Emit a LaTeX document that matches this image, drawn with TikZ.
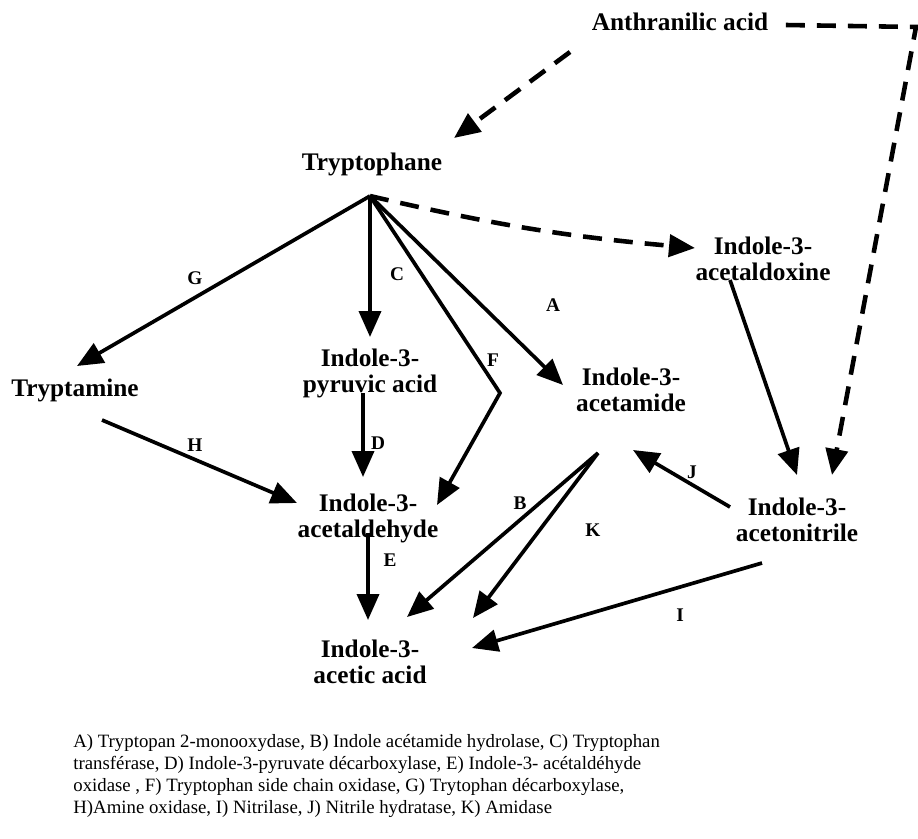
\documentclass[tikz,border=0pt]{standalone}
\usepackage{fontspec}
\setmainfont{Liberation Serif}
\usepackage{tikz}
\usetikzlibrary{arrows.meta,calc}

\begin{document}
\begin{tikzpicture}[
    x=0.02cm, y=-0.02cm,
    % --- STYLES ---
    compound/.style={
        font=\fontsize{14.4}{14.8}\selectfont\bfseries,
        align=center, inner sep=3pt
    },
    enzyme/.style={font=\fontsize{11}{12}\selectfont\bfseries, inner sep=1pt},
    conv/.style={-{Triangle[length=0.52cm,width=0.44cm]}, line width=2.1pt},
    putative/.style={conv, line width=2.6pt, dash pattern=on 0.38cm off 0.24cm},
    legend/.style={
        font=\fontsize{10.7}{12.5}\selectfont,
        align=left, anchor=north west, inner sep=0pt
    }
]

\fill[white] (0,0) rectangle (918,838);
\useasboundingbox (0,0) rectangle (918,838);

% ===== 1. COMPOUNDS =====
\node[compound] (anth) at (680,22) {Anthranilic acid};
\node[compound] (trp) at (372,164) {Tryptophane};
\node[compound] (ialdox) at (763,259) {Indole-3-\\acetaldoxine};
\node[compound] (trpam) at (75,390) {Tryptamine};
\node[compound] (ipa) at (370,373) {Indole-3-\\pyruvic acid};
\node[compound] (iam) at (631,390) {Indole-3-\\acetamide};
\node[compound] (iald) at (368,518) {Indole-3-\\acetaldehyde};
\node[compound] (ian) at (797,520) {Indole-3-\\acetonitrile};
\node[compound] (iaa) at (370,662) {Indole-3-\\acetic acid};

% point where the routes leave Tryptophane
\coordinate (hub) at ($(trp)+(-2,32)$);

% ===== 2. PUTATIVE ROUTES (dashed) =====
\draw[putative] ($(anth)+(-110,30)$) -- ($(trp)+(82,-26)$);
\draw[putative] ($(anth.east)+(12,3)$) -- ($(anth)+(236,5)$) -- ($(ian)+(35,-45)$);
\draw[putative] (hub) to[bend right=4] ($(ialdox)+(-68,-11)$);

% ===== 3. ENZYMATIC ROUTES =====
\draw[conv] (hub) -- ($(trpam)+(2,-24)$);
\draw[conv] (hub) -- ($(ipa)+(0,-36)$);
\draw[conv] (hub) -- ($(ipa)+(130,20)$) -- ($(iald)+(69,-13)$);
\draw[conv] (hub) -- ($(iam)+(-68,-5)$);

\draw[conv] ($(ialdox)+(-33,21)$) -- ($(ian)+(0,-45)$);
\draw[conv] ($(trpam)+(27,30)$) -- ($(iald)+(-71,-15)$);
\draw[conv] ($(ipa)+(-7,20)$) -- ($(iald)+(-5,-41)$);
\draw[conv] ($(iald)+(0,15)$) -- ($(iaa)+(-2,-42)$);

\draw[conv] ($(iam)+(-33,63)$) -- ($(iaa)+(37,-45)$);
\draw[conv] ($(iam)+(-33,63)$) -- ($(iaa)+(103,-44)$);
\draw[conv] ($(ian)+(-67,-13)$) -- ($(iam)+(2,60)$);
\draw[conv] ($(ian)+(-35,43)$) -- ($(iaa)+(102,-14)$);

% ===== 4. ENZYME LETTERS =====
\node[enzyme] (eA) at (553,305) {A};
\node[enzyme] (eB) at (520,503) {B};
\node[enzyme] (eC) at (397,274) {C};
\node[enzyme] (eD) at (378,443) {D};
\node[enzyme] (eE) at (390,560) {E};
\node[enzyme] (eF) at (493,360) {F};
\node[enzyme] (eG) at (195,278) {G};
\node[enzyme] (eH) at (195,445) {H};
\node[enzyme] (eI) at (680,615) {I};
\node[enzyme] (eJ) at (692,472) {J};
\node[enzyme] (eK) at (593,530) {K};

% ===== 5. LEGEND =====
\node[legend] (key) at (73,734) {A) Tryptopan 2-monooxydase, B) Indole acétamide hydrolase, C) Tryptophan\\
transférase, D) Indole-3-pyruvate décarboxylase, E) Indole-3- acétaldéhyde\\
oxidase , F) Tryptophan side chain oxidase, G) Trytophan décarboxylase,\\
H)Amine oxidase, I) Nitrilase, J) Nitrile hydratase, K) Amidase};

\end{tikzpicture}
\end{document}
